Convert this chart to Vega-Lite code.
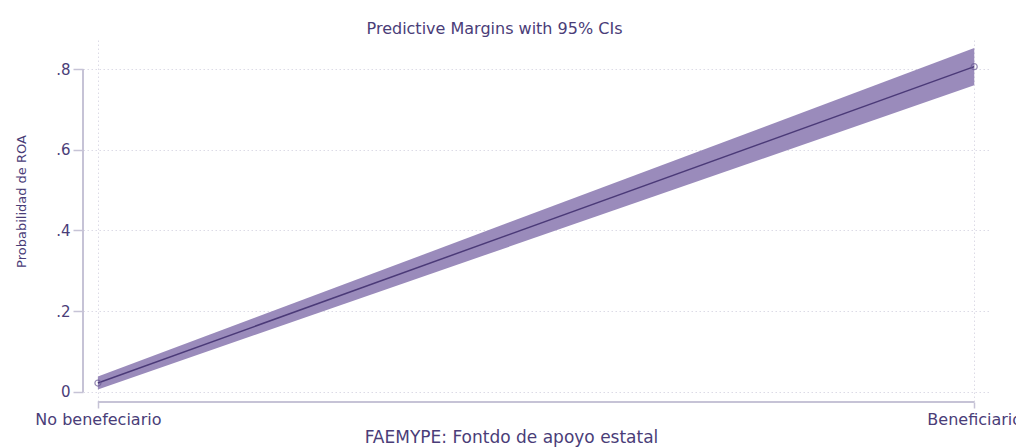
{
  "$schema": "https://vega.github.io/schema/vega-lite/v6.json",
  "autosize": "none",
  "width": 907,
  "height": 362,
  "padding": {"left": 83, "top": 40, "right": 26, "bottom": 46},
  "background": "#ffffff",
  "config": {
    "view": {"stroke": null},
    "font": "DejaVu Sans",
    "axis": {
      "labelFont": "DejaVu Sans",
      "titleFont": "DejaVu Sans",
      "labelColor": "#4a3d78",
      "titleColor": "#4a3d78",
      "titleFontWeight": "normal",
      "domain": false,
      "tickColor": "#c6c3d6",
      "tickWidth": 1.5,
      "gridColor": "#dcdbe6",
      "gridDash": [1.5, 2.5],
      "gridWidth": 1
    }
  },
  "title": {
    "text": "Predictive Margins with 95% CIs",
    "font": "DejaVu Sans",
    "fontSize": 16,
    "fontWeight": "normal",
    "color": "#4a3d78",
    "anchor": "middle",
    "dx": -42,
    "offset": 3
  },
  "data": {
    "values": [
      {"grupo": "No benefeciario", "x": 0, "margin": 0.022, "lo": 0.006, "hi": 0.038},
      {"grupo": "Beneficiario", "x": 1, "margin": 0.806, "lo": 0.760, "hi": 0.852}
    ]
  },
  "layer": [
    {
      "mark": {"type": "area", "color": "#9a8bbb", "opacity": 1},
      "encoding": {
        "x": {
          "field": "x",
          "type": "quantitative",
          "scale": {"domain": [-0.017, 1.018], "nice": false, "zero": false},
          "axis": {
            "values": [0, 1],
            "labelExpr": "datum.value == 0 ? 'No benefeciario' : 'Beneficiario'",
            "labelFontSize": 16,
            "labelPadding": 3,
            "tickSize": 6,
            "grid": true,
            "title": "FAEMYPE: Fontdo de apoyo estatal",
            "titleFontSize": 17,
            "titlePadding": 2,
            "titleX": 428
          }
        },
        "y": {
          "field": "lo",
          "type": "quantitative",
          "scale": {"domain": [-0.025, 0.872], "nice": false, "zero": false},
          "axis": {
            "values": [0, 0.2, 0.4, 0.6, 0.8],
            "labelExpr": "datum.value == 0 ? '0' : replace(format(datum.value, '.1f'), '0.', '.')",
            "labelFontSize": 15,
            "labelPadding": 3,
            "tickSize": 10,
            "grid": true,
            "title": "Probabilidad de ROA",
            "titleFontSize": 13,
            "titlePadding": 27,
            "titleY": 161
          }
        },
        "y2": {"field": "hi"}
      }
    },
    {
      "mark": {"type": "line", "color": "#4b3a78", "strokeWidth": 1.5},
      "encoding": {
        "x": {"field": "x", "type": "quantitative"},
        "y": {"field": "margin", "type": "quantitative"}
      }
    },
    {
      "mark": {"type": "point", "shape": "circle", "filled": false, "color": "#6a5a94", "size": 36, "strokeWidth": 1.2},
      "encoding": {
        "x": {"field": "x", "type": "quantitative"},
        "y": {"field": "margin", "type": "quantitative"}
      }
    },
    {
      "mark": {"type": "rule", "color": "#c6c3d6", "strokeWidth": 2},
      "encoding": {
        "x": {"datum": -0.017, "type": "quantitative"},
        "y": {"datum": 0, "type": "quantitative"},
        "y2": {"datum": 0.8}
      }
    },
    {
      "mark": {"type": "rule", "color": "#c6c3d6", "strokeWidth": 2},
      "encoding": {
        "x": {"datum": 0, "type": "quantitative"},
        "x2": {"datum": 1},
        "y": {"datum": -0.025, "type": "quantitative"}
      }
    }
  ]
}
